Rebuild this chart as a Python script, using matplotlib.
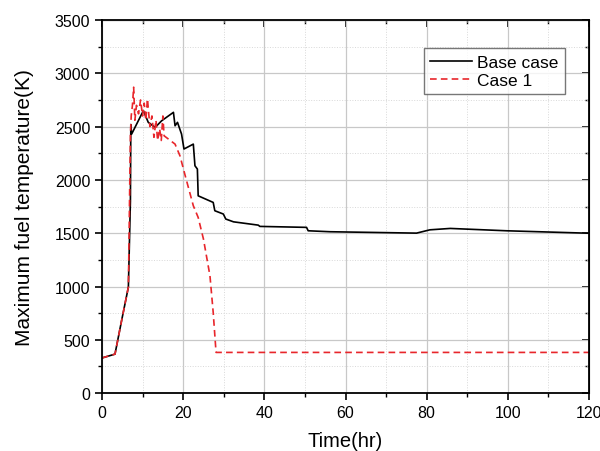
import numpy as np
import matplotlib.pyplot as plt
from matplotlib.ticker import MultipleLocator

plt.rcParams['font.family'] = ['Liberation Sans', 'DejaVu Sans']

# Base case
t_base = [0, 3.2, 4.9, 6.5, 7.0, 7.1, 7.3, 10.2, 11.4, 13.1, 14.7, 17.6, 18.0, 18.6,
          19.6, 20.2, 22.5, 22.9, 23.5, 23.7, 27.4, 27.8, 29.9, 30.5, 32.4, 38.5,
          38.9, 50.4, 50.8, 56.2, 77.5, 80.8, 85.8, 99.7, 120]
T_base = [330, 366, 694, 995, 1800, 2520, 2430, 2650, 2540, 2493, 2555, 2634, 2508, 2540,
          2430, 2290, 2336, 2133, 2102, 1851, 1789, 1711, 1680, 1633, 1607, 1576,
          1564, 1555, 1523, 1514, 1501, 1532, 1545, 1523, 1500]

# Case 1
t_case1 = [0, 3.2, 4.9, 6.5, 7.0, 7.2, 7.5, 7.8, 8.1, 8.5, 9.0, 9.5, 10.0, 10.4, 10.8,
           11.2, 11.8, 12.3, 12.8, 13.3, 13.7, 14.2, 14.6, 15.0, 15.3, 18.0, 19.2,
           20.5, 22.5, 23.7, 25.0, 26.6, 27.4, 28.1, 120]
T_case1 = [330, 366, 694, 995, 2420, 2600, 2700, 2870, 2560, 2700, 2620, 2750, 2600, 2720, 2560,
           2760, 2500, 2600, 2400, 2560, 2370, 2480, 2370, 2600, 2414, 2336, 2227,
           2040, 1758, 1648, 1445, 1101, 757, 382, 382]

fig = plt.figure(figsize=(6, 4.52), dpi=100)
ax = fig.add_axes([0.17, 0.128, 0.8117, 0.8255])

ax.plot(t_base, T_base, color='black', lw=1.2, label='Base case')
ax.plot(t_case1, T_case1, color='#e8262b', lw=1.2, linestyle=(0, (4, 2.5)), label='Case 1')

ax.set_xlim(0, 120)
ax.set_ylim(0, 3500)
ax.xaxis.set_major_locator(MultipleLocator(20))
ax.xaxis.set_minor_locator(MultipleLocator(10))
ax.yaxis.set_major_locator(MultipleLocator(500))
ax.yaxis.set_minor_locator(MultipleLocator(250))

ax.grid(True, which='major', color='#c8c8c8', lw=0.9)
ax.grid(True, which='minor', color='#d8d8d8', lw=0.7, linestyle=':')
ax.set_axisbelow(True)

ax.tick_params(which='major', direction='out', length=5, width=1.2, labelsize=11.5)
ax.tick_params(which='minor', direction='out', length=3, width=1.0)
for s in ax.spines.values():
    s.set_linewidth(1.3)

# top / right ticks pointing inward
top = ax.secondary_xaxis('top')
top.xaxis.set_major_locator(MultipleLocator(20))
top.xaxis.set_minor_locator(MultipleLocator(10))
top.tick_params(which='both', direction='in', labeltop=False)
top.tick_params(which='major', length=5, width=1.2)
top.tick_params(which='minor', length=3, width=1.0)
right = ax.secondary_yaxis('right')
right.yaxis.set_major_locator(MultipleLocator(500))
right.yaxis.set_minor_locator(MultipleLocator(250))
right.tick_params(which='both', direction='in', labelright=False)
right.tick_params(which='major', length=5, width=1.2)
right.tick_params(which='minor', length=3, width=1.0)

ax.set_xlabel('Time(hr)', fontsize=14.5, labelpad=8)
ax.set_ylabel('Maximum fuel temperature(K)', fontsize=15, labelpad=15)

leg = ax.legend(loc='upper right', bbox_to_anchor=(0.968, 0.947), fontsize=12.5,
                frameon=True, fancybox=False, edgecolor='#555555', handlelength=2.4,
                handletextpad=0.3, borderpad=0.35, labelspacing=0.2)
leg.get_frame().set_linewidth(1.0)

fig.savefig('out.png', dpi=100)
